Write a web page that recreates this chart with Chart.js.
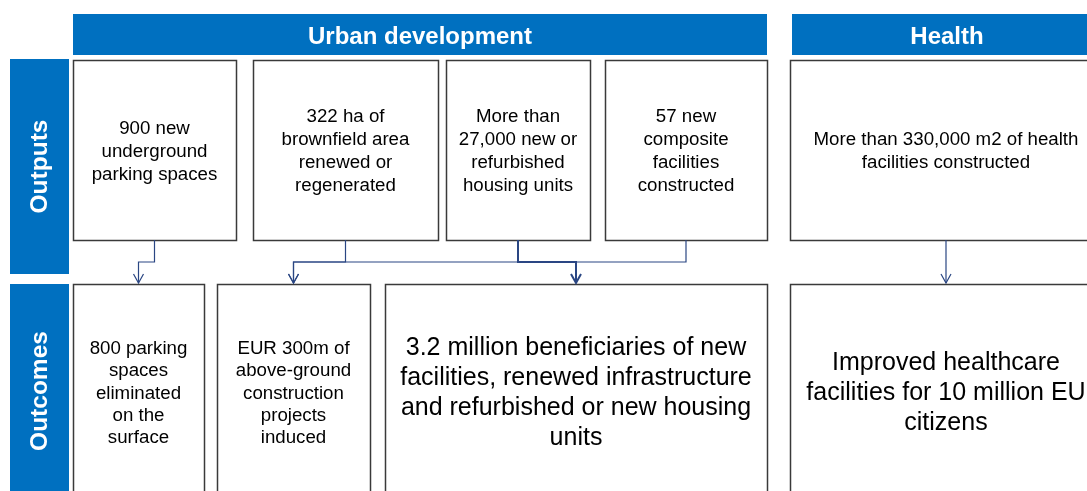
<!DOCTYPE html>
<html>
<head>
<meta charset="utf-8">
<title>Urban development and health: outputs and outcomes</title>
<script src="https://cdn.jsdelivr.net/npm/chart.js@4.4.1/dist/chart.umd.min.js"></script>
<style>
    html, body { margin: 0; padding: 0; background: #ffffff; }
    #wrap { width: 1087px; height: 491px; }
</style>
</head>
<body>
<div id="wrap"><canvas id="chart-diagram" width="1087" height="491"></canvas></div>
<script>
    "use strict";

    // Texts (data)
    const sectors = ["Urban development", "Health"];
    const stages = ["Outputs", "Outcomes"];
    const outputTexts = [
        ["900 new", "underground", "parking spaces"],
        ["322 ha of", "brownfield area", "renewed or", "regenerated"],
        ["More than", "27,000 new or", "refurbished", "housing units"],
        ["57 new", "composite", "facilities", "constructed"],
        ["More than 330,000 m2 of health", "facilities constructed"]
    ];
    const outcomeTexts = [
        ["800 parking", "spaces", "eliminated", "on the", "surface"],
        ["EUR 300m of", "above-ground", "construction", "projects", "induced"],
        ["3.2 million beneficiaries of new", "facilities, renewed infrastructure", "and refurbished or new housing", "units"],
        ["Improved healthcare", "facilities for 10 million EU", "citizens"]
    ];
    // output index -> outcome index
    const links = [[0, 0], [1, 1], [2, 2], [3, 1], [4, 3]];
    const boldLinks = [2];

    // Layout (diagram units = pixels of a 1087 x 491 page)
    const sectorBoxes = [[73, 14, 767, 55], [792, 14, 1102, 55]];
    const stageBoxes = [[10, 59, 69, 274], [10, 284, 69, 500]];
    const outputBoxes = [[73, 60, 236, 240], [253, 60, 438, 240], [446, 60, 590, 240], [605, 60, 767, 240], [790, 60, 1102, 240]];
    const outcomeBoxes = [[73, 284, 204, 500], [217, 284, 370, 500], [385, 284, 767, 500], [790, 284, 1102, 500]];
    const outputFont = 18.7, outputLine = 23;
    const outcomeFonts = [18.7, 18.7, 25, 25];
    const outcomeLines = [22.4, 22.4, 30, 30];
    const textCentreY = [151.5, 393.5];
    const elbowY = 262;

    const BLUE = "#0070c0";
    const NAVY = "#2a4683";
    const FONT = "'Liberation Sans', Arial, sans-serif";

    const midX = (b) => (b[0] + b[2]) / 2;

    // Connector datasets, built from the links
    const datasets = [];
    links.forEach(([o, c], i) => {
        const from = outputBoxes[o];
        const to = outcomeBoxes[c];
        const x0 = midX(from), x1 = midX(to);
        const width = boldLinks.includes(i) ? 2 : 1.2;
        const path = x0 === x1
            ? [{ x: x0, y: from[3] }, { x: x1, y: to[1] - 1 }]
            : [{ x: x0, y: from[3] }, { x: x0, y: elbowY }, { x: x1, y: elbowY }, { x: x1, y: to[1] - 1 }];
        datasets.push({ data: path, borderColor: NAVY, borderWidth: width });
        datasets.push({
            data: [{ x: x1 - 5, y: to[1] - 10 }, { x: x1, y: to[1] - 1 }, { x: x1 + 5, y: to[1] - 10 }],
            borderColor: NAVY, borderWidth: width
        });
    });

    const drawLines = (ctx, lines, cx, cy, size, step, weight, color) => {
        ctx.font = weight + " " + size + "px " + FONT;
        ctx.fillStyle = color;
        ctx.textAlign = "center";
        ctx.textBaseline = "middle";
        const top = cy - (lines.length - 1) * step / 2;
        lines.forEach((line, k) => ctx.fillText(line, cx, top + k * step));
    };

    // Boxes and labels
    const diagramPlugin = {
        id: "diagram",
        beforeDatasetsDraw(chart) {
            const { ctx, scales: { x, y } } = chart;
            const px = (v) => x.getPixelForValue(v);
            const py = (v) => y.getPixelForValue(v);
            ctx.save();
            ctx.fillStyle = BLUE;
            sectorBoxes.concat(stageBoxes).forEach(b => {
                ctx.fillRect(px(b[0]), py(b[1]), px(b[2]) - px(b[0]), py(b[3]) - py(b[1]));
            });
            ctx.strokeStyle = "#3a3a3a";
            ctx.lineWidth = 1.5;
            outputBoxes.concat(outcomeBoxes).forEach(b => {
                ctx.fillStyle = "#ffffff";
                ctx.fillRect(px(b[0]), py(b[1]), px(b[2]) - px(b[0]), py(b[3]) - py(b[1]));
                ctx.strokeRect(px(b[0]) + 0.5, py(b[1]) + 0.5, px(b[2]) - px(b[0]), py(b[3]) - py(b[1]));
            });
            ctx.restore();
        },
        afterDraw(chart) {
            const { ctx, scales: { x, y } } = chart;
            const px = (v) => x.getPixelForValue(v);
            const py = (v) => y.getPixelForValue(v);
            ctx.save();
            sectors.forEach((s, i) => {
                const b = sectorBoxes[i];
                drawLines(ctx, [s], px(midX(b)), py((b[1] + b[3]) / 2) + 2.5, 24, 0, "bold", "#ffffff");
            });
            stages.forEach((s, i) => {
                const b = stageBoxes[i];
                const cy = i === 0 ? (b[1] + b[3]) / 2 : 391;
                ctx.save();
                ctx.translate(px(midX(b)) + 1, py(cy));
                ctx.rotate(-Math.PI / 2);
                drawLines(ctx, [s], 0, 0, 24.5, 0, "bold", "#ffffff");
                ctx.restore();
            });
            outputTexts.forEach((t, i) => {
                drawLines(ctx, t, px(midX(outputBoxes[i])), py(textCentreY[0]), outputFont, outputLine, "normal", "#000000");
            });
            outcomeTexts.forEach((t, i) => {
                drawLines(ctx, t, px(midX(outcomeBoxes[i])), py(textCentreY[1]), outcomeFonts[i], outcomeLines[i], "normal", "#000000");
            });
            ctx.restore();
        }
    };

    new Chart(document.getElementById("chart-diagram"), {
        type: "scatter",
        data: { datasets: datasets },
        options: {
            responsive: false,
            animation: false,
            showLine: true,
            layout: { padding: 0 },
            elements: {
                point: { radius: 0, hoverRadius: 0 },
                line: { tension: 0, fill: false, borderCapStyle: "butt", borderJoinStyle: "miter" }
            },
            scales: {
                x: { type: "linear", min: 0, max: 1087, display: false },
                y: { type: "linear", min: 0, max: 491, reverse: true, display: false }
            },
            plugins: {
                legend: { display: false },
                tooltip: { enabled: false }
            },
            events: []
        },
        plugins: [diagramPlugin]
    });
</script>
</body>
</html>
